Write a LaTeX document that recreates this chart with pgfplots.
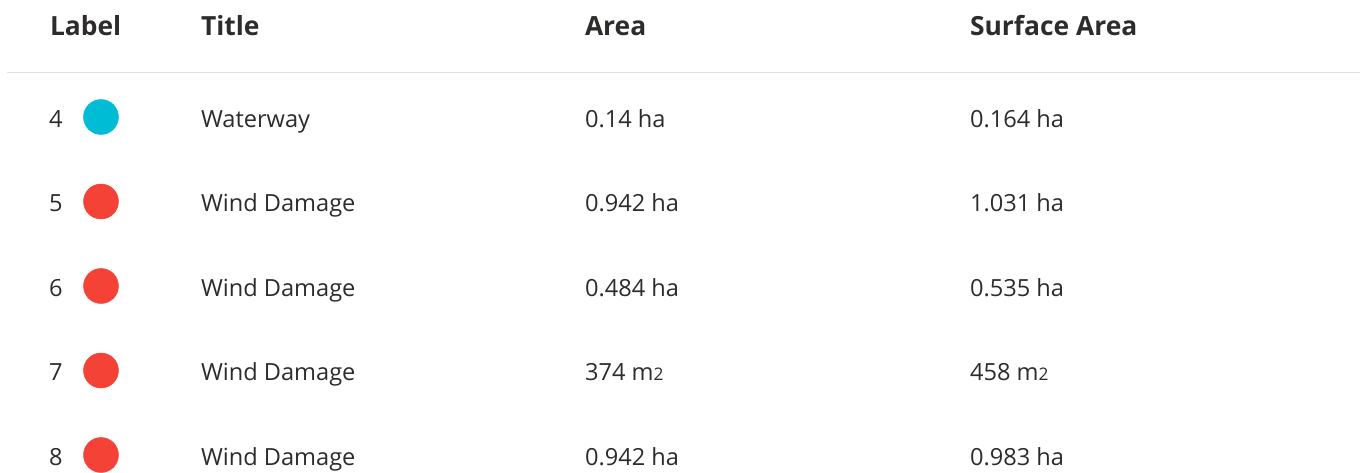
\documentclass[border=0pt]{standalone}
\usepackage{pgfplots}
\pgfplotsset{compat=1.18}
\usepackage{fontspec}
\setmainfont{Open Sans}
\definecolor{txt}{RGB}{45,44,43}
\definecolor{cyanc}{RGB}{0,188,212}
\definecolor{redc}{RGB}{244,67,54}
\definecolor{rule}{RGB}{225,225,225}
\newcommand{\hd}[1]{\fontsize{19.8pt}{22pt}\selectfont\bfseries #1}
\newcommand{\rw}[1]{\fontsize{17.7pt}{20pt}\selectfont #1}
\newcommand{\msq}{m{\fontsize{13pt}{14pt}\selectfont 2}}
\tikzset{cell/.style={text=txt, inner sep=0pt, outer sep=0pt, anchor=base west}}
\begin{document}
\begin{tikzpicture}
\begin{axis}[
  scale only axis, width=1020pt, height=354pt,
  xmin=0, xmax=1360, ymin=0, ymax=472, y dir=reverse,
  hide axis, clip=false,
]
\addplot[rule, line width=0.75pt] coordinates {(7,72.5) (1360,72.5)};
\addplot[only marks, mark=*, mark size=13.1pt, color=cyanc, mark options={draw=cyanc, fill=cyanc}] coordinates {(101,117)};
\addplot[only marks, mark=*, mark size=13.1pt, color=redc, mark options={draw=redc, fill=redc}] coordinates {(101,201.5) (101,286) (101,370.5) (101,455)};
% header
\node[cell] at (axis cs:50,35) {\hd{Label}};
\node[cell] at (axis cs:201,35) {\hd{Title}};
\node[cell] at (axis cs:585,35) {\hd{Area}};
\node[cell] at (axis cs:970,35) {\hd{Surface Area}};
% rows
\node[cell] at (axis cs:49,127) {\rw{4}};
\node[cell] at (axis cs:201,127) {\rw{Waterway}};
\node[cell] at (axis cs:585,127) {\rw{0.14 ha}};
\node[cell] at (axis cs:970,127) {\rw{0.164 ha}};
\node[cell] at (axis cs:49,211.5) {\rw{5}};
\node[cell] at (axis cs:201,211.5) {\rw{Wind Damage}};
\node[cell] at (axis cs:585,211.5) {\rw{0.942 ha}};
\node[cell] at (axis cs:970,211.5) {\rw{1.031 ha}};
\node[cell] at (axis cs:49,296) {\rw{6}};
\node[cell] at (axis cs:201,296) {\rw{Wind Damage}};
\node[cell] at (axis cs:585,296) {\rw{0.484 ha}};
\node[cell] at (axis cs:970,296) {\rw{0.535 ha}};
\node[cell] at (axis cs:49,380.5) {\rw{7}};
\node[cell] at (axis cs:201,380.5) {\rw{Wind Damage}};
\node[cell] at (axis cs:585,380.5) {\rw{374 \msq}};
\node[cell] at (axis cs:970,380.5) {\rw{458 \msq}};
\node[cell] at (axis cs:49,465) {\rw{8}};
\node[cell] at (axis cs:201,465) {\rw{Wind Damage}};
\node[cell] at (axis cs:585,465) {\rw{0.942 ha}};
\node[cell] at (axis cs:970,465) {\rw{0.983 ha}};
\end{axis}
\pgfresetboundingbox
\path[use as bounding box] (0,0) rectangle (1020pt,354pt);
\end{tikzpicture}
\end{document}
